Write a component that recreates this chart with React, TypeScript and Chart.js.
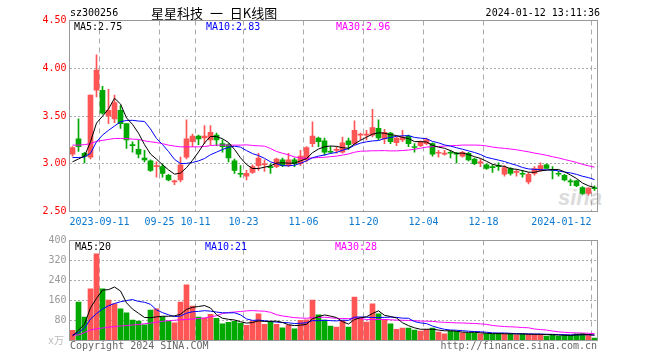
import React, { useEffect, useRef } from 'react';
import { Chart, registerables } from 'chart.js';

Chart.register(...registerables);

// ---------- data ----------
const dates = [
  '2023-09-04','2023-09-05','2023-09-06','2023-09-07','2023-09-08','2023-09-11','2023-09-12','2023-09-13','2023-09-14','2023-09-15',
  '2023-09-18','2023-09-19','2023-09-20','2023-09-21','2023-09-22','2023-09-25','2023-09-26','2023-09-27','2023-09-28',
  '2023-10-09','2023-10-10','2023-10-11','2023-10-12','2023-10-13','2023-10-16','2023-10-17','2023-10-18','2023-10-19','2023-10-20',
  '2023-10-23','2023-10-24','2023-10-25','2023-10-26','2023-10-27','2023-10-30','2023-10-31',
  '2023-11-01','2023-11-02','2023-11-03','2023-11-06','2023-11-07','2023-11-08','2023-11-09','2023-11-10','2023-11-13','2023-11-14',
  '2023-11-15','2023-11-16','2023-11-17','2023-11-20','2023-11-21','2023-11-22','2023-11-23','2023-11-24','2023-11-27','2023-11-28',
  '2023-11-29','2023-11-30','2023-12-01','2023-12-04','2023-12-05','2023-12-06','2023-12-07','2023-12-08','2023-12-11','2023-12-12',
  '2023-12-13','2023-12-14','2023-12-15','2023-12-18','2023-12-19','2023-12-20','2023-12-21','2023-12-22','2023-12-25','2023-12-26',
  '2023-12-27','2023-12-28','2023-12-29','2024-01-02','2024-01-03','2024-01-04','2024-01-05','2024-01-08','2024-01-09','2024-01-10',
  '2024-01-11','2024-01-12',
];

const tickDates = ['2023-09-11','2023-09-25','2023-10-11','2023-10-23','2023-11-06','2023-11-20','2023-12-04','2023-12-18','2024-01-12'];
const tickTexts = ['2023-09-11','09-25','10-11','10-23','11-06','11-20','12-04','12-18','2024-01-12          '];

const openPrices = [
  3.10,3.26,3.11,3.07,3.77,3.77,3.50,3.47,3.56,3.42,
  3.20,3.15,3.06,3.03,2.97,2.97,2.88,2.81,2.83,3.07,
  3.23,3.29,3.27,3.25,3.30,3.21,3.20,3.03,2.90,2.87,
  2.91,2.98,2.99,2.97,2.97,3.04,2.98,3.04,3.00,3.04,
  3.21,3.27,3.24,3.13,3.14,3.12,3.24,3.21,3.30,3.30,
  3.30,3.37,3.26,3.32,3.22,3.25,3.29,3.18,3.19,3.21,
  3.21,3.11,3.10,3.12,3.11,3.08,3.11,3.05,3.01,2.99,
  2.97,2.98,2.89,2.95,2.91,2.90,2.81,2.90,2.93,2.99,
  2.94,2.90,2.88,2.82,2.82,2.75,2.69,2.75,
];
const highPrices = [
  3.18,3.47,3.12,3.72,4.14,3.81,3.78,3.72,3.61,3.42,
  3.23,3.25,3.14,3.04,3.02,3.00,2.89,2.83,3.07,3.46,
  3.31,3.30,3.40,3.40,3.32,3.25,3.21,3.05,2.98,2.93,
  2.99,3.11,3.04,3.00,3.06,3.06,3.11,3.06,3.14,3.18,
  3.44,3.28,3.27,3.18,3.18,3.28,3.27,3.45,3.32,3.35,
  3.57,3.46,3.36,3.33,3.28,3.35,3.30,3.21,3.24,3.27,
  3.22,3.14,3.14,3.14,3.12,3.13,3.12,3.06,3.05,3.00,
  2.99,3.01,2.98,2.96,2.94,2.93,2.91,2.97,3.01,3.00,
  2.97,2.92,2.89,2.84,2.83,2.76,2.75,2.77,
];
const lowPrices = [
  3.08,3.13,3.01,3.05,3.70,3.52,3.42,3.43,3.37,3.16,
  3.12,3.06,3.02,2.92,2.86,2.86,2.82,2.78,2.81,3.05,
  3.18,3.20,3.21,3.20,3.19,3.12,3.02,2.90,2.86,2.83,
  2.90,2.93,2.92,2.90,2.96,2.97,2.97,2.97,2.98,3.02,
  3.18,3.18,3.09,3.11,3.11,3.11,3.15,3.20,3.25,3.25,
  3.28,3.25,3.21,3.21,3.19,3.23,3.18,3.12,3.18,3.20,
  3.08,3.07,3.09,3.06,3.01,3.07,3.03,2.99,2.97,2.94,
  2.91,2.93,2.87,2.88,2.87,2.86,2.79,2.88,2.92,2.95,
  2.84,2.87,2.82,2.77,2.76,2.68,2.67,2.72,
];
const closePrices = [
  3.17,3.18,3.08,3.72,3.98,3.53,3.56,3.64,3.42,3.25,
  3.19,3.10,3.04,2.93,2.98,2.90,2.83,2.815,2.99,3.26,
  3.29,3.26,3.29,3.33,3.25,3.18,3.06,2.93,2.89,2.90,
  2.97,3.06,3.00,2.96,3.05,2.98,3.04,3.00,3.08,3.17,
  3.29,3.23,3.12,3.12,3.15,3.22,3.20,3.35,3.31,3.31,
  3.38,3.27,3.33,3.23,3.27,3.28,3.21,3.17,3.23,3.25,
  3.10,3.12,3.11,3.11,3.10,3.12,3.04,3.00,3.02,2.95,
  2.96,2.97,2.96,2.90,2.92,2.89,2.89,2.95,2.98,2.95,
  2.93,2.89,2.83,2.81,2.77,2.69,2.745,2.74,
];
// volume (万手)
const volumes = [
  41,154,94,207,347,207,162,147,127,111,
  82,78,63,122,127,95,78,71,154,223,
  138,94,90,105,89,67,73,77,70,61,
  78,107,65,73,65,51,62,47,81,83,
  162,103,82,58,54,81,54,174,91,74,
  147,107,85,67,45,50,50,42,38,45,
  50,34,27,38,37,31,29,30,27,27,
  25,29,27,26,23,26,25,25,25,18,
  23,18,22,21,27,29,21,10,
];

// moving-average values at the start of the window (read from the picture,
// their history lies before the first visible day)
const priceMa5Head = [3.02, 3.05, 3.08, 3.23];
const priceMa10Head = [3.065, 3.065, 3.07, 3.11, 3.23, 3.30, 3.35, 3.395, 3.44];
const priceMa30Head = [
  3.195,3.195,3.20,3.21,3.235,3.245,3.255,3.265,3.265,3.265,
  3.258,3.255,3.24,3.23,3.222,3.21,3.195,3.185,3.177,3.177,
  3.177,3.177,3.18,3.19,3.195,3.195,3.195,3.195,3.195,
];
const volMa5Head = [18, 41, 65, 131];
const volMa10Head = [22, 32, 50, 86, 108, 126, 139, 148, 155];
const volMa30Head = [
  22,22,32,42,47,50,53,56,58,60,
  62,64,67,70,73,77,79,81,83,84,
  86,88,90,95,99,108,112,114,116,
];

const priceTicks = [2.5, 3.0, 3.5, 4.0, 4.5];
const volumeTicks = [0, 80, 160, 240, 320, 400];

const headerCode = 'sz300256';
const headerTitle = '星星科技 一 日K线图';
const headerTime = '2024-01-12 13:11:36';
const priceMaTexts = ['MA5:2.75', 'MA10:2.83', 'MA30:2.96'];
const volumeMaTexts = ['MA5:20', 'MA10:21', 'MA30:28'];
const copyrightText = 'Copyright 2024 SINA.COM';
const urlText = 'http://finance.sina.com.cn';
const unitText = 'x万';

// ---------- style ----------
const MONO = "'DejaVu Sans Mono', monospace";
const CJK = "'Noto Sans CJK SC', sans-serif";
const UP = '#ff5555';
const DOWN = '#00a800';
const MA_COLORS = ['#000000', '#0000ff', '#ff00ff'];
const GRID = '#aaaaaa';
const W = 660;
const H = 360;

function movingAverage(values: number[], n: number, head: number[]): number[] {
  return values.map((_, i) => {
    if (i < n - 1) return head[i];
    let s = 0;
    for (let k = i - n + 1; k <= i; k++) s += values[k];
    return s / n;
  });
}

const candleColors = closePrices.map((c, i) => (c >= openPrices[i] ? UP : DOWN));
const tickIndex = new Map<number, string>();
tickDates.forEach((d, k) => tickIndex.set(dates.indexOf(d), tickTexts[k]));

const boxPlugin = {
  id: 'box',
  afterDraw(chart: any) {
    const { ctx, chartArea: a } = chart;
    ctx.save();
    ctx.strokeStyle = '#999999';
    ctx.lineWidth = 1;
    ctx.strokeRect(a.left, a.top, a.right - a.left, a.bottom - a.top);
    ctx.restore();
  },
};

function xScale(showLabels: boolean, height: number) {
  return {
    type: 'category',
    offset: true,
    grid: {
      offset: true,
      drawTicks: false,
      lineWidth: 1,
      color: (c: any) => (tickIndex.has(c.index) ? GRID : 'rgba(0,0,0,0)'),
    },
    border: { display: false, dash: [5, 4] },
    ticks: {
      display: showLabels,
      autoSkip: false,
      maxRotation: 0,
      minRotation: 0,
      padding: 5,
      labelOffset: -3,
      color: '#0a78d0',
      font: { family: MONO, size: 10 },
      callback: (_v: any, i: number) => tickIndex.get(i) ?? '',
    },
    afterFit: (s: any) => {
      s.height = height;
      s.paddingLeft = 0;
      s.paddingRight = 0;
    },
  };
}

function lineDs(label: string, data: number[], color: string) {
  return {
    type: 'line' as const,
    label,
    data,
    borderColor: color,
    borderWidth: 1,
    pointRadius: 0,
    tension: 0,
    order: 0,
  };
}

function Text(props: { text: string; x: number; y: number; color?: string; size?: number; family?: string; right?: boolean; extra?: any }) {
  const { text, x, y, color = '#000', size = 10, family = MONO, right = false, extra = {} } = props;
  const style: any = {
    position: 'absolute',
    top: y - 7,
    lineHeight: '14px',
    height: 14,
    fontSize: size,
    fontFamily: family,
    color,
    whiteSpace: 'pre',
    ...extra,
  };
  if (right) style.right = W - x;
  else style.left = x;
  return <div style={style}>{text}</div>;
}

export default function App() {
  const priceRef = useRef<HTMLCanvasElement>(null);
  const volRef = useRef<HTMLCanvasElement>(null);

  useEffect(() => {
    const ma5 = movingAverage(closePrices, 5, priceMa5Head);
    const ma10 = movingAverage(closePrices, 10, priceMa10Head);
    const ma30 = movingAverage(closePrices, 30, priceMa30Head);
    const vma5 = movingAverage(volumes, 5, volMa5Head);
    const vma10 = movingAverage(volumes, 10, volMa10Head);
    const vma30 = movingAverage(volumes, 30, volMa30Head);

    const bodies = openPrices.map((o, i) => [o, closePrices[i]]);
    const wicks = lowPrices.map((l, i) => [l, highPrices[i]]);

    const priceChart = new Chart(priceRef.current as HTMLCanvasElement, {
      type: 'bar',
      data: {
        labels: dates,
        datasets: [
          lineDs('MA5', ma5, MA_COLORS[0]),
          lineDs('MA10', ma10, MA_COLORS[1]),
          lineDs('MA30', ma30, MA_COLORS[2]),
          {
            type: 'bar',
            label: 'body',
            data: bodies as any,
            backgroundColor: candleColors,
            borderWidth: 0,
            barThickness: 5,
            grouped: false,
            minBarLength: 1,
            order: 1,
          },
          {
            type: 'bar',
            label: 'wick',
            data: wicks as any,
            backgroundColor: candleColors,
            borderWidth: 0,
            barThickness: 1,
            grouped: false,
            order: 2,
          },
        ] as any,
      },
      options: {
        animation: false,
        responsive: false,
        maintainAspectRatio: false,
        events: [],
        layout: { padding: { top: 20.5, right: 62.5, bottom: 0, left: 0 } },
        plugins: { legend: { display: false }, tooltip: { enabled: false } },
        scales: {
          x: xScale(true, H - 211.5) as any,
          y: {
            min: 2.5,
            max: 4.5,
            afterBuildTicks: (s: any) => {
              s.ticks = priceTicks.map((v) => ({ value: v }));
            },
            grid: {
              drawTicks: false,
              color: (c: any) => (c.tick && (c.tick.value === 2.5 || c.tick.value === 4.5) ? 'rgba(0,0,0,0)' : GRID),
            },
            border: { display: false, dash: [2, 2] },
            ticks: {
              padding: 3,
              color: '#ff0000',
              font: { family: MONO, size: 10 },
              callback: (v: any) => Number(v).toFixed(2),
            },
            afterFit: (s: any) => {
              s.width = 69.5;
            },
          } as any,
        },
      },
      plugins: [boxPlugin],
    });

    const volChart = new Chart(volRef.current as HTMLCanvasElement, {
      type: 'bar',
      data: {
        labels: dates,
        datasets: [
          lineDs('MA5', vma5, MA_COLORS[0]),
          lineDs('MA10', vma10, MA_COLORS[1]),
          lineDs('MA30', vma30, MA_COLORS[2]),
          {
            type: 'bar',
            label: 'volume',
            data: volumes,
            backgroundColor: candleColors,
            borderWidth: 0,
            barThickness: 5,
            grouped: false,
            order: 1,
          },
        ] as any,
      },
      options: {
        animation: false,
        responsive: false,
        maintainAspectRatio: false,
        events: [],
        layout: { padding: { top: 240.5, right: 62.5, bottom: 0, left: 0 } },
        plugins: { legend: { display: false }, tooltip: { enabled: false } },
        scales: {
          x: xScale(false, H - 340.5) as any,
          y: {
            min: 0,
            max: 400,
            afterBuildTicks: (s: any) => {
              s.ticks = volumeTicks.map((v) => ({ value: v }));
            },
            grid: {
              drawTicks: false,
              color: (c: any) => (c.tick && (c.tick.value === 0 || c.tick.value === 400) ? 'rgba(0,0,0,0)' : GRID),
            },
            border: { display: false, dash: [2, 2] },
            ticks: {
              padding: 3,
              color: '#999999',
              font: { family: MONO, size: 10 },
              callback: (v: any) => (Number(v) === 0 ? '' : String(v)),
            },
            afterFit: (s: any) => {
              s.width = 69.5;
            },
          } as any,
        },
      },
      plugins: [boxPlugin],
    });

    return () => {
      priceChart.destroy();
      volChart.destroy();
    };
  }, []);

  const canvasStyle: any = { position: 'absolute', left: 0, top: 0, width: W, height: H };

  return (
    <div style={{ position: 'absolute', left: 0, top: 0, width: W, height: H, background: '#fff', overflow: 'hidden' }}>
      <div
        style={{
          position: 'absolute',
          left: 558,
          top: 186,
          fontFamily: "'Liberation Sans', sans-serif",
          fontWeight: 'bold',
          fontStyle: 'italic',
          fontSize: 22,
          lineHeight: '24px',
          color: '#dcdcdc',
        }}
      >
        sina
      </div>
      <canvas ref={priceRef} width={W} height={H} style={canvasStyle} />
      <canvas ref={volRef} width={W} height={H} style={canvasStyle} />

      <Text text={headerCode} x={70} y={12.5} />
      <Text text={headerTitle} x={151} y={12.5} size={13} family={CJK} extra={{ wordSpacing: 4 }} />
      <Text text={headerTime} x={600} y={12.5} right />

      <Text text={priceMaTexts[0]} x={74} y={27} color={MA_COLORS[0]} />
      <Text text={priceMaTexts[1]} x={206} y={27} color={MA_COLORS[1]} />
      <Text text={priceMaTexts[2]} x={336} y={27} color={MA_COLORS[2]} />

      <Text text={volumeMaTexts[0]} x={75} y={246.5} color={MA_COLORS[0]} />
      <Text text={volumeMaTexts[1]} x={205} y={246.5} color={MA_COLORS[1]} />
      <Text text={volumeMaTexts[2]} x={335} y={246.5} color={MA_COLORS[2]} />

      <Text text={unitText} x={48} y={341} color="#bbbbbb" family={`${MONO}, ${CJK}`} />
      <Text text={copyrightText} x={70} y={345.5} color="#666666" />
      <Text text={urlText} x={597} y={345.5} color="#666666" right />
    </div>
  );
}
